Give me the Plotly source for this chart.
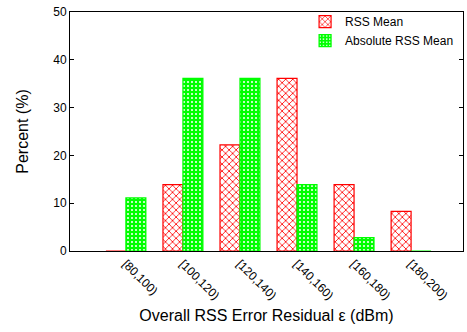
import plotly.graph_objects as go

categories = ["[80,100)", "[100,120)", "[120,140)", "[140,160)", "[160,180)", "[180,200)"]
rss_mean = [0.0, 13.9, 22.2, 36.1, 13.9, 8.3]
abs_rss_mean = [11.1, 36.1, 36.1, 13.9, 2.8, 0.0]
y_ticks = [0, 10, 20, 30, 40, 50]

FONT = "Liberation Sans, Arial, sans-serif"

fig = go.Figure()
fig.add_trace(go.Bar(
    x=list(range(len(categories))), y=rss_mean, name="RSS Mean",
    marker=dict(color="white", line=dict(color="#ff0000", width=1.2),
                pattern=dict(shape="x", fgcolor="#ff0000", bgcolor="white",
                             size=5, solidity=0.3, fillmode="replace")),
))
fig.add_trace(go.Bar(
    x=list(range(len(categories))), y=abs_rss_mean, name="Absolute RSS Mean",
    marker=dict(color="#00ff00", line=dict(color="#00ff00", width=1.2),
                pattern=dict(shape=".", fgcolor="white", bgcolor="#00ff00",
                             size=4, solidity=0.2, fillmode="replace")),
))

fig.update_layout(
    width=467, height=332,
    margin=dict(l=70, r=4, t=12, b=81, autoexpand=False),
    paper_bgcolor="white", plot_bgcolor="white",
    barmode="group", bargap=0.3, bargroupgap=0,
    font=dict(family=FONT, size=12, color="black"),
    showlegend=True,
    legend=dict(x=0.99, y=1.02, xanchor="right", yanchor="top",
                bgcolor="rgba(0,0,0,0)", font=dict(size=12, family=FONT),
                itemwidth=30, tracegroupgap=0),
)
fig.update_xaxes(
    range=[-0.98, 5.91], tickmode="array",
    tickvals=list(range(len(categories))), ticktext=categories,
    tickangle=45, ticks="", showline=True, mirror=True, automargin=False,
    linecolor="black", linewidth=1, showgrid=False, zeroline=False,
    title=dict(text="Overall RSS Error Residual ε (dBm)", font=dict(size=16, family=FONT), standoff=8),
    tickfont=dict(size=12, family=FONT),
)
fig.update_yaxes(
    range=[0, 50], tickvals=y_ticks, ticks="inside", ticklen=4,
    tickcolor="black", showline=True, mirror="ticks", automargin=False,
    linecolor="black", linewidth=1, showgrid=False, zeroline=False,
    title=dict(text="Percent (%)", font=dict(size=16, family=FONT), standoff=20),
    tickfont=dict(size=12, family=FONT),
)

fig.write_html("out.html", config={"displayModeBar": False},
               post_script="document.body.style.margin='0';")
